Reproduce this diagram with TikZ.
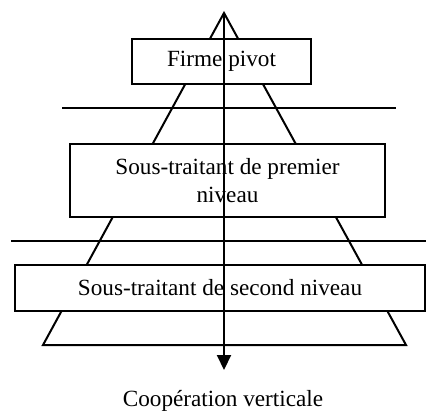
\documentclass[tikz,border=0pt]{standalone}
\usepackage{fontspec}
\setmainfont{Liberation Serif}
\usetikzlibrary{arrows.meta}

\begin{document}
\begin{tikzpicture}[x=0.5pt,y=-0.5pt]
\tikzstyle{every node}=[font=\fontsize{11.6}{14}\selectfont]
\tikzstyle{trait}=[line width=1pt]
\tikzstyle{niveau}=[rectangle,draw,line width=1pt,fill=white,inner sep=0pt,align=center]
\useasboundingbox (0,0) rectangle (426,412);
% pyramide
\coordinate (sommet) at (224,13);
\coordinate (basg) at (43,345);
\coordinate (basd) at (406,345);
\draw[trait] (sommet) -- (basg) -- (basd) -- cycle;
% separations
\coordinate (sepA1) at (62,108);
\coordinate (sepA2) at (396,108);
\coordinate (sepB1) at (11,241);
\coordinate (sepB2) at (426,241);
\draw[trait] (sepA1) -- (sepA2);
\draw[trait] (sepB1) -- (sepB2);
% niveaux
\node[niveau,minimum width=89.5pt,minimum height=22.5pt] (pivot) at (221.5,61.5) {Firme pivot};
\node[niveau,minimum width=157.5pt,minimum height=36.5pt] (premier) at (227.5,180.5) {Sous-traitant de premier\\niveau};
\node[niveau,minimum width=205pt,minimum height=23pt] (second) at (220,288) {Sous-traitant de second niveau};
% cooperation
\coordinate (pointe) at (224,370);
\draw[trait,-{Triangle[width=7pt,length=7.5pt]}] (sommet) -- (pointe);
\node (coop) at (223,401) {Coopération verticale};
\end{tikzpicture}
\end{document}
